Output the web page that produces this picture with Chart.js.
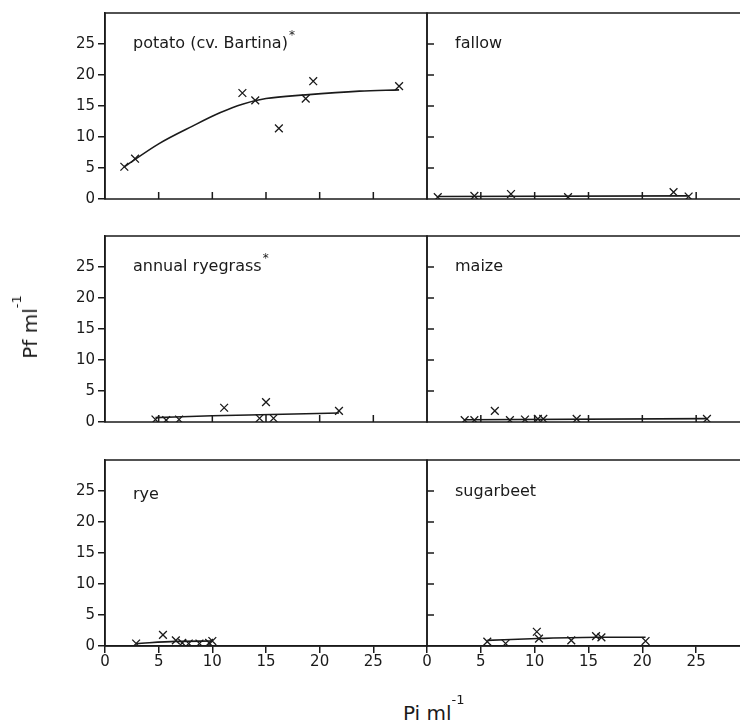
<!DOCTYPE html>
<html>
<head>
<meta charset="utf-8">
<title>Pf vs Pi</title>
<script src="https://cdn.jsdelivr.net/npm/chart.js@4.4.1/dist/chart.umd.min.js"></script>
<style>
  html, body { margin: 0; padding: 0; background: #fff; overflow: hidden; }
  #fig { position: relative; width: 750px; height: 724px; }
  #fig canvas { position: absolute; }
  .axis-title { position: absolute; font-family: "DejaVu Sans", sans-serif; font-size: 20px; color: #1a1a1a; white-space: nowrap; line-height: normal; }
  .axis-title sup { font-size: 13px; vertical-align: baseline; position: relative; top: -16px; }
  #ylab { left: 30px; top: 327px; transform: translate(-50%, -50%) rotate(-90deg); }
  #xlab { left: 403px; top: 701px; }
</style>
</head>
<body>
<div id="fig">
  <canvas id="c1"></canvas>
  <canvas id="c2"></canvas>
  <canvas id="c3"></canvas>
  <canvas id="c4"></canvas>
  <canvas id="c5"></canvas>
  <canvas id="c6"></canvas>
  <div class="axis-title" id="ylab">Pf ml<sup>-1</sup></div>
  <div class="axis-title" id="xlab">Pi ml<sup>-1</sup></div>
</div>
<script>
// tick labels
const xTicks = [0, 5, 10, 15, 20, 25];
const yTicks = [0, 5, 10, 15, 20, 25];

// potato (cv. Bartina)
const potatoPi = [1.8, 2.8, 12.8, 14.0, 16.2, 18.7, 19.4, 27.4];
const potatoPf = [5.2, 6.5, 17.1, 15.9, 11.4, 16.2, 19.0, 18.2];
const potatoFitPi = [1.8, 5.0, 8.2, 10.7, 12.8, 15.0, 18.7, 23.7, 27.4];
const potatoFitPf = [5.2, 8.9, 11.8, 13.9, 15.3, 16.2, 16.8, 17.4, 17.6];

// fallow
const fallowPi = [1.0, 4.4, 7.8, 13.1, 22.9, 24.3];
const fallowPf = [0.3, 0.5, 0.8, 0.3, 1.1, 0.4];
const fallowFitPi = [1.0, 24.3];
const fallowFitPf = [0.4, 0.5];

// annual ryegrass
const ryegrassPi = [4.7, 5.7, 6.9, 11.1, 14.4, 15.0, 15.7, 21.8];
const ryegrassPf = [0.4, 0.3, 0.4, 2.3, 0.6, 3.2, 0.6, 1.8];
const ryegrassFitPi = [4.7, 10.0, 15.5, 21.8];
const ryegrassFitPf = [0.7, 1.0, 1.2, 1.45];

// maize
const maizePi = [3.5, 4.4, 6.3, 7.7, 9.1, 10.3, 10.8, 13.9, 26.0];
const maizePf = [0.3, 0.3, 1.8, 0.3, 0.4, 0.5, 0.5, 0.5, 0.5];
const maizeFitPi = [3.5, 26.0];
const maizeFitPf = [0.35, 0.55];

// rye
const ryePi = [2.9, 5.4, 6.6, 7.2, 7.8, 8.8, 9.7, 10.0];
const ryePf = [0.4, 1.8, 0.9, 0.5, 0.4, 0.4, 0.5, 0.8];
const ryeFitPi = [2.9, 6.6, 10.0];
const ryeFitPf = [0.4, 0.75, 0.8];

// sugarbeet
const sugarbeetPi = [5.6, 7.3, 10.2, 10.4, 13.4, 15.7, 16.2, 20.3];
const sugarbeetPf = [0.7, 0.4, 2.3, 1.2, 0.9, 1.6, 1.4, 0.8];
const sugarbeetFitPi = [5.6, 10.3, 16.0, 20.3];
const sugarbeetFitPf = [0.9, 1.2, 1.4, 1.4];

const ink = '#1a1a1a';
const font = '"DejaVu Sans", sans-serif';

const panels = [
  { id: 'c1', row: 0, col: 0, label: 'potato (cv. Bartina)', star: true, pi: potatoPi, pf: potatoPf, fitPi: potatoFitPi, fitPf: potatoFitPf },
  { id: 'c2', row: 0, col: 1, label: 'fallow', pi: fallowPi, pf: fallowPf, fitPi: fallowFitPi, fitPf: fallowFitPf },
  { id: 'c3', row: 1, col: 0, label: 'annual ryegrass', star: true, pi: ryegrassPi, pf: ryegrassPf, fitPi: ryegrassFitPi, fitPf: ryegrassFitPf },
  { id: 'c4', row: 1, col: 1, label: 'maize', pi: maizePi, pf: maizePf, fitPi: maizeFitPi, fitPf: maizeFitPf },
  { id: 'c5', row: 2, col: 0, label: 'rye', dy: 4, pi: ryePi, pf: ryePf, fitPi: ryeFitPi, fitPf: ryeFitPf },
  { id: 'c6', row: 2, col: 1, label: 'sugarbeet', dy: 1, pi: sugarbeetPi, pf: sugarbeetPf, fitPi: sugarbeetFitPi, fitPf: sugarbeetFitPf }
];

// canvas placement: columns and rows (chart areas: x 105-427 / 427-750, y 13-199 / 236-422 / 460-646)
const colBox = [{ left: 0, width: 428, padL: 0, padR: 1 }, { left: 420, width: 330, padL: 7, padR: 0 }];
const rowBox = [{ top: 0, height: 215, padT: 13, padB: 16 }, { top: 220, height: 218, padT: 16, padB: 16 }, { top: 440, height: 240, padT: 20, padB: 4 }];

// frame, inner ticks and panel label
const framePlugin = {
  id: 'frame',
  afterDraw(chart, args, opts) {
    const { ctx, chartArea: a } = chart;
    const x = chart.scales.x, y = chart.scales.y;
    ctx.save();
    ctx.strokeStyle = ink;
    ctx.lineWidth = 1.5;
    ctx.strokeRect(a.left, a.top, a.right - a.left, a.bottom - a.top);
    ctx.beginPath();
    if (opts.innerY) {
      yTicks.forEach(v => {
        if (v === 0) return;
        const py = y.getPixelForValue(v);
        ctx.moveTo(a.left, py);
        ctx.lineTo(a.left + 7, py);
      });
    }
    if (opts.innerX) {
      xTicks.forEach(v => {
        if (v === 0) return;
        const px = x.getPixelForValue(v);
        ctx.moveTo(px, a.bottom);
        ctx.lineTo(px, a.bottom - 7);
      });
    }
    ctx.stroke();

    ctx.fillStyle = ink;
    ctx.font = '16px ' + font;
    ctx.textBaseline = 'middle';
    const lx = a.left + 28;
    const ly = y.getPixelForValue(25) + (opts.dy || 0);
    ctx.fillText(opts.label, lx, ly);
    if (opts.star) {
      const w = ctx.measureText(opts.label).width;
      ctx.font = '12px ' + font;
      ctx.fillText('*', lx + w + 1, ly - 8);
    }
    ctx.restore();
  }
};

function makePanel(p) {
  const cb = colBox[p.col], rb = rowBox[p.row];
  const canvas = document.getElementById(p.id);
  canvas.width = cb.width;
  canvas.height = rb.height;
  canvas.style.left = cb.left + 'px';
  canvas.style.top = rb.top + 'px';

  const bottomRow = p.row === 2;
  const leftCol = p.col === 0;

  new Chart(canvas, {
    type: 'scatter',
    data: {
      datasets: [
        {
          data: p.fitPi.map((v, i) => ({ x: v, y: p.fitPf[i] })),
          showLine: true,
          pointRadius: 0,
          borderColor: ink,
          borderWidth: 1.6,
          cubicInterpolationMode: 'monotone'
        },
        {
          data: p.pi.map((v, i) => ({ x: v, y: p.pf[i] })),
          pointStyle: 'crossRot',
          pointRadius: 5.5,
          pointBorderWidth: 1.3,
          borderColor: ink,
          backgroundColor: ink
        }
      ]
    },
    options: {
      responsive: false,
      animation: false,
      devicePixelRatio: 1,
      layout: { autoPadding: false, padding: { left: cb.padL, right: cb.padR, top: rb.padT, bottom: rb.padB } },
      plugins: {
        legend: { display: false },
        tooltip: { enabled: false },
        frame: { label: p.label, star: !!p.star, dy: p.dy || 0, innerY: !leftCol, innerX: !bottomRow }
      },
      scales: {
        x: {
          type: 'linear',
          min: 0,
          max: 30,
          display: bottomRow,
          afterBuildTicks: s => { s.ticks = xTicks.map(v => ({ value: v })); },
          afterFit: s => { s.height = bottomRow ? 30 : 0; },
          ticks: { color: ink, font: { family: font, size: 15 }, padding: 0, maxRotation: 0 },
          grid: { drawOnChartArea: false, drawTicks: true, tickLength: 7, color: ink, lineWidth: 1.5 },
          border: { color: ink, width: 1.5 }
        },
        y: {
          type: 'linear',
          min: 0,
          max: 30,
          display: leftCol,
          afterBuildTicks: s => { s.ticks = yTicks.map(v => ({ value: v })); },
          afterFit: s => { s.width = leftCol ? 105 : 0; },
          ticks: { color: ink, font: { family: font, size: 15 }, padding: 3 },
          grid: { drawOnChartArea: false, drawTicks: true, tickLength: 7, color: ink, lineWidth: 1.5 },
          border: { color: ink, width: 1.5 }
        }
      }
    },
    plugins: [framePlugin]
  });
}

panels.forEach(makePanel);
</script>
</body>
</html>
